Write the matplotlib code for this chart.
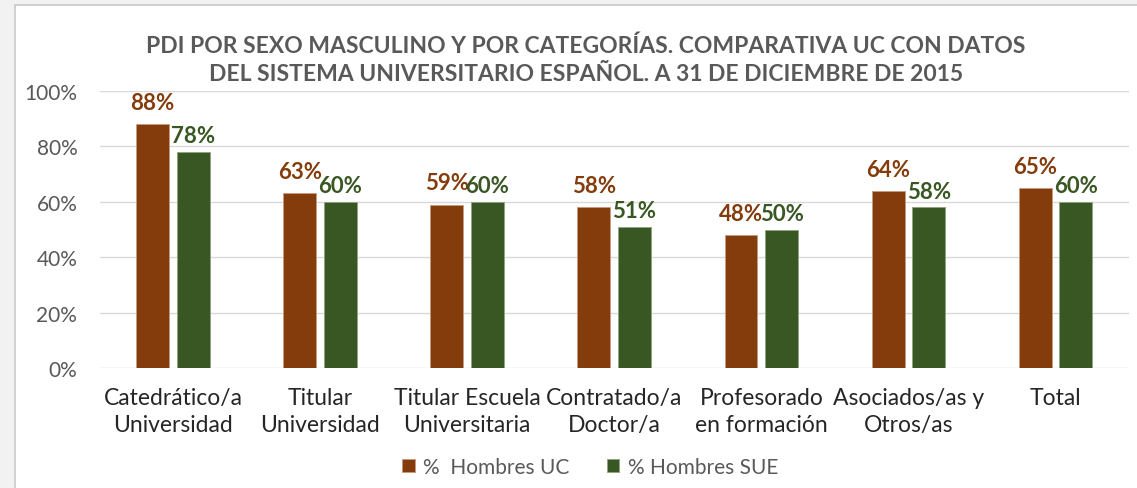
import numpy as np
import matplotlib.pyplot as plt
from matplotlib.patches import Rectangle

categorias = ['Catedrático/a\nUniversidad', 'Titular\nUniversidad', 'Titular Escuela\nUniversitaria',
              'Contratado/a\nDoctor/a', 'Profesorado\nen formación', 'Asociados/as y\nOtros/as', 'Total']
hombres_uc = [0.88, 0.63, 0.59, 0.58, 0.48, 0.64, 0.65]
hombres_sue = [0.78, 0.60, 0.60, 0.51, 0.50, 0.58, 0.60]
y_ticks = [0, 0.2, 0.4, 0.6, 0.8, 1.0]
y_labels = ['0%', '20%', '40%', '60%', '80%', '100%']

col_uc = '#843C0C'
col_sue = '#385723'


def main():
    plt.rcParams['font.family'] = ['Lato', 'DejaVu Sans']
    fig = plt.figure(figsize=(11.37, 4.89), dpi=100)
    fig.patch.set_facecolor('#f2f2f2')
    W, H = 1137, 489
    # chart area frame
    fig.patches.append(Rectangle((15 / W, -0.1), 1.1, 1 - 6 / H + 0.1, transform=fig.transFigure,
                                 facecolor='white', edgecolor='#c8c8c8', lw=1.2, zorder=-10))

    ax = fig.add_axes([99.5 / W, 1 - 369 / H, (1129 - 99.5) / W, (369 - 92) / H])
    ax.set_facecolor('none')
    x = np.arange(len(categorias))
    w = 0.224
    off = 0.138
    ax.bar(x - off, hombres_uc, w, color=col_uc, edgecolor='#c79a7f', lw=0.6, label='%  Hombres UC', zorder=3)
    ax.bar(x + off, hombres_sue, w, color=col_sue, edgecolor='#8fa37f', lw=0.6, label='% Hombres SUE', zorder=3)

    for xi, v in zip(x, hombres_uc):
        ax.annotate(f'{v * 100:.0f}%', (xi - off, v), xytext=(0, 8), textcoords='offset points',
                    ha='center', va='bottom', color=col_uc, fontsize=16, fontweight='bold')
    for xi, v in zip(x, hombres_sue):
        ax.annotate(f'{v * 100:.0f}%', (xi + off, v), xytext=(0, 4), textcoords='offset points',
                    ha='center', va='bottom', color=col_sue, fontsize=16, fontweight='bold')

    ax.set_xlim(-0.5, len(categorias) - 0.5)
    ax.set_ylim(0, 1)
    ax.set_yticks(y_ticks)
    ax.set_yticklabels(y_labels)
    ax.set_xticks(x)
    ax.set_xticklabels(categorias, linespacing=1.35)
    ax.tick_params(axis='y', length=0, pad=16, labelsize=15, labelcolor='#595959')
    ax.tick_params(axis='x', length=0, pad=14, labelsize=16.5, labelcolor='#262626')
    ax.grid(axis='y', color='#d9d9d9', lw=1)
    ax.set_axisbelow(True)
    for s in ax.spines.values():
        s.set_visible(False)

    fig.text(586 / W, 1 - 60 / H,
             'PDI POR SEXO MASCULINO Y POR CATEGORÍAS. COMPARATIVA UC CON DATOS\n'
             'DEL SISTEMA UNIVERSITARIO ESPAÑOL. A 31 DE DICIEMBRE DE 2015',
             ha='center', va='center', fontsize=16.5, fontweight='bold', color='#595959', linespacing=1.42)

    fig.legend(loc='center', bbox_to_anchor=(590 / W, 1 - 468 / H), ncol=2, frameon=False,
               fontsize=15, labelcolor='#595959', handlelength=0.6, handleheight=0.6,
               handletextpad=0.4, columnspacing=1.8)

    fig.savefig('out.png', dpi=100, facecolor=fig.get_facecolor())


if __name__ == '__main__':
    main()
